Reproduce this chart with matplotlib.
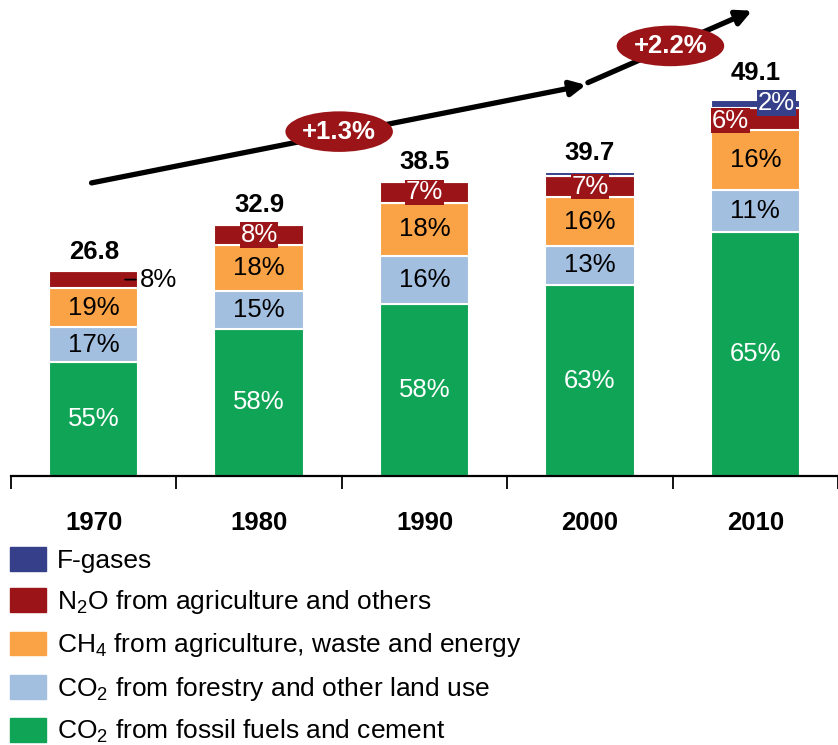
import matplotlib
matplotlib.use("Agg")
import matplotlib.pyplot as plt
import matplotlib.patches as mpatches
import numpy as np

plt.rcParams['font.family'] = ['Liberation Sans', 'DejaVu Sans']
plt.rcParams['mathtext.fontset'] = 'custom'
plt.rcParams['mathtext.rm'] = 'Liberation Sans'
plt.rcParams['mathtext.default'] = 'regular'

# data (GtCO2eq/yr and shares in %)
years = ['1970', '1980', '1990', '2000', '2010']
totals = [26.8, 32.9, 38.5, 39.7, 49.1]
co2_ffi = [55, 58, 58, 63, 65]
co2_folu = [17, 15, 16, 13, 11]
ch4 = [19, 18, 18, 16, 16]
n2o = [8, 8, 7, 7, 6]
fgas = [0.2, 0.2, 0.2, 1.3, 2]
growth_labels = ['+1.3%', '+2.2%']

c_ffi = '#10A556'
c_folu = '#A3BFDF'
c_ch4 = '#FAA346'
c_n2o = '#9B1518'
c_fgas = '#353F8A'

fig = plt.figure(figsize=(8.38, 7.45), dpi=100)
ax = fig.add_axes([11 / 838, 269 / 745, 827 / 838, 476 / 745])

x = np.arange(len(years))
shares = np.array([co2_ffi, co2_folu, ch4, n2o, fgas], dtype=float)
segs = shares / shares.sum(axis=0) * np.array(totals)
colors = [c_ffi, c_folu, c_ch4, c_n2o, c_fgas]

bottom = np.zeros(len(years))
mids = []
for vals, col in zip(segs, colors):
    ax.bar(x, vals, width=0.54, bottom=bottom, color=col,
           edgecolor='white', linewidth=1.5)
    mids.append(bottom + vals / 2)
    bottom = bottom + vals

fs = 18.5
for i in range(len(years)):
    ax.text(x[i], mids[0][i], f'{co2_ffi[i]}%', ha='center', va='center',
            color='white', fontsize=fs)
    ax.text(x[i], mids[1][i], f'{co2_folu[i]}%', ha='center', va='center',
            color='black', fontsize=fs)
    ax.text(x[i], mids[2][i], f'{ch4[i]}%', ha='center', va='center',
            color='black', fontsize=fs)
    # totals
    off = 11 if i == 4 else 5
    ax.annotate(f'{totals[i]}', (x[i], totals[i]), xytext=(0, off),
                textcoords='offset points', ha='center', va='bottom',
                fontsize=fs, fontweight='bold')

# N2O labels
ax.annotate(f'{n2o[0]}%', (x[0] + 0.19, mids[3][0]), xytext=(x[0] + 0.28, mids[3][0]),
            ha='left', va='center', fontsize=fs,
            arrowprops=dict(arrowstyle='-', lw=1.3, color='black',
                            shrinkA=1, shrinkB=0))
for i in range(1, 4):
    ax.text(x[i], mids[3][i], f'{n2o[i]}%', ha='center', va='center',
            color='white', fontsize=fs,
            bbox=dict(boxstyle='square,pad=0.03', fc=c_n2o, ec='none'))
ax.text(x[4] - 0.15, mids[3][4] - 0.2, f'{n2o[4]}%', ha='center', va='center',
        color='white', fontsize=fs,
        bbox=dict(boxstyle='square,pad=0.03', fc=c_n2o, ec='none'))
ax.text(x[4] + 0.13, totals[4] - 0.35, f'{fgas[4]}%', ha='center', va='center',
        color='white', fontsize=fs,
        bbox=dict(boxstyle='square,pad=0.03', fc=c_fgas, ec='none'))

# growth arrows
ax.annotate('', xy=(2.976, 51.1), xytext=(-0.013, 38.3),
            arrowprops=dict(arrowstyle='-|>,head_length=0.9,head_width=0.45',
                            lw=3.8, color='black', shrinkA=0, shrinkB=0))
ax.annotate('', xy=(3.98, 60.8), xytext=(2.988, 51.4),
            arrowprops=dict(arrowstyle='-|>,head_length=0.9,head_width=0.45',
                            lw=3.8, color='black', shrinkA=0, shrinkB=0))
for (ex, ey), lab in zip([(1.484, 45.0), (3.487, 56.2)], growth_labels):
    ax.add_patch(mpatches.Ellipse((ex, ey), 0.65, 5.3, fc=c_n2o, ec='none',
                                  zorder=5))
    ax.text(ex, ey, lab, ha='center', va='center', color='white',
            fontsize=fs, fontweight='bold', zorder=6)

ax.set_xlim(-0.5, 4.473)
ax.set_ylim(0, 62.2)
for s in ['top', 'right', 'left']:
    ax.spines[s].set_visible(False)
ax.spines['bottom'].set_linewidth(1.6)
ax.set_yticks([])
ax.set_xticks(x)
ax.set_xticklabels(years, fontsize=fs, fontweight='bold')
ax.set_xticks(np.arange(-0.5, 4.6, 1), minor=True)
ax.tick_params(axis='x', which='major', length=0, pad=25)
ax.tick_params(axis='x', which='minor', length=9.5, width=1.3, direction='out')

handles = [mpatches.Patch(color=c_fgas, label='F-gases'),
           mpatches.Patch(color=c_n2o, label='N$_2$O from agriculture and others'),
           mpatches.Patch(color=c_ch4, label='CH$_4$ from agriculture, waste and energy'),
           mpatches.Patch(color=c_folu, label='CO$_2$ from forestry and other land use'),
           mpatches.Patch(color=c_ffi, label='CO$_2$ from fossil fuels and cement')]
fig.legend(handles=handles, loc='upper left', bbox_to_anchor=(10 / 838, 1 - 547 / 745),
           frameon=False, fontsize=19, handlelength=1.37, handleheight=1.0,
           handletextpad=0.42, labelspacing=0.58, borderpad=0, borderaxespad=0)

fig.savefig('out.png', dpi=100)
